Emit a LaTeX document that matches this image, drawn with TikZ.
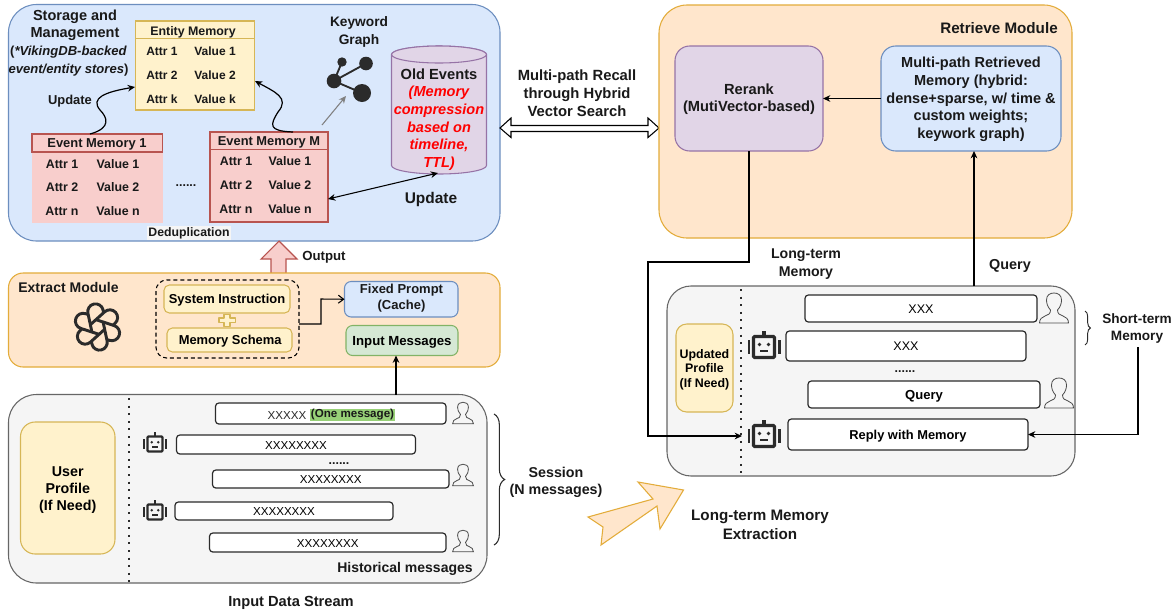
\documentclass[tikz,border=0pt]{standalone}
\usepackage{fontspec}
\setmainfont{Liberation Sans}
\usetikzlibrary{arrows.meta,decorations.pathreplacing,calc}
\definecolor{blueF}{HTML}{DAE8FC}\definecolor{blueS}{HTML}{6C8EBF}
\definecolor{orgF}{HTML}{FFE6CC}\definecolor{orgS}{HTML}{E3AC3A}
\definecolor{yelF}{HTML}{FFF2CC}\definecolor{yelS}{HTML}{D6B656}
\definecolor{redF}{HTML}{F8CECC}\definecolor{redS}{HTML}{B85450}
\definecolor{purF}{HTML}{E1D5E7}\definecolor{purS}{HTML}{9673A6}
\definecolor{grnF}{HTML}{D5E8D4}\definecolor{grnS}{HTML}{82B366}
\definecolor{gryF}{HTML}{F5F5F5}\definecolor{gryS}{HTML}{666666}
\definecolor{hiG}{HTML}{97D077}
\definecolor{ink}{HTML}{2B2B2B}
\newcommand{\bx}[7]{%
 \pgfmathsetmacro\wid{(#4-(#2))*0.75}\pgfmathsetmacro\hei{(#5-(#3))*0.75}%
 \node[#6,minimum width=\wid pt,minimum height=\hei pt,inner sep=0pt,outer sep=0pt,align=center] (#1) at ({((#2)+(#4))/2},{((#3)+(#5))/2}) {\raisebox{-1.3pt}[\height][\depth]{\begin{tabular}{@{}c@{}}#7\end{tabular}}};}
\newcommand{\robotIcon}[3]{\begin{scope}[shift={(#1,#2)},scale=#3]
 \draw[ink,line width=#3*2.4pt,rounded corners=0.8pt] (-10.5,-10.5) rectangle (10.5,10.5);
 \fill[ink] (-1.6,-16.5) rectangle (1.6,-11);
 \fill[ink] (-16.5,-7) rectangle (-14,7);
 \fill[ink] (14,-7) rectangle (16.5,7);
 \fill[ink] (-4.5,-2.5) circle (1.9);
 \fill[ink] (4.5,-2.5) circle (1.9);
 \fill[ink] (-4,3) rectangle (4,5.2);
\end{scope}}
\newcommand{\personIcon}[3]{\begin{scope}[shift={(#1,#2)},scale=#3]
 \draw[ink!85,line width=0.6pt] (-3.5,2) .. controls (-6.5,-1) and (-7.5,-5) .. (-7.5,-8) .. controls (-7.5,-13) and (-4,-15) .. (0,-15) .. controls (4,-15) and (7.5,-13) .. (7.5,-8) .. controls (7.5,-5) and (6.5,-1) .. (3.5,2) .. controls (3.5,6) and (6,7) .. (9,8) .. controls (12,9) and (14.5,11) .. (14.5,15) -- (-14.5,15) .. controls (-14.5,11) and (-12,9) .. (-9,8) .. controls (-6,7) and (-3.5,6) .. (-3.5,2) -- cycle;
\end{scope}}
\newcommand{\fsz}[2]{\fontsize{#1}{#2}\selectfont\bfseries}
\tikzset{
 x=0.75pt,y=-0.75pt,
 boxline/.style={line width=0.8pt},
 lab/.style={font=\fsz{9.6}{13},align=center,inner sep=0pt,text=black!90},
 plain/.style={font=\fontsize{9.4}{13}\selectfont,align=center,inner sep=0pt,text=ink},
 rowlab/.style={font=\fsz{9.3}{12},inner sep=0pt,text=black!90},
 module/.style={boxline,draw=orgS,fill=orgF},
 msg/.style={draw=ink,fill=white,line width=0.9pt,rounded corners=2.5pt},
 conn/.style={line width=1.2pt,-{Stealth[length=5.5pt,width=5pt]}},
 dbl/.style={line width=0.8pt,{Stealth[length=5.5pt,width=5pt]}-{Stealth[length=5.5pt,width=5pt]}},
 dotline/.style={line width=1.5pt,dash pattern=on 1.5pt off 4.2pt,ink},
 yel/.style={boxline,draw=yelS,fill=yelF},
}
\begin{document}
\begin{tikzpicture}
\useasboundingbox (0,0) rectangle (1176,611);
\fill[white] (0,0) rectangle (1176,611);
% Storage
\bx{storage}{8.5}{4.5}{500}{241}{boxline,draw=blueS,fill=blueF,rounded corners=21pt}{}
\node[lab,font=\fsz{10.9}{13}] (stT) at (75,25.5) {Storage and\\Management};
\node[lab,font=\fsz{9.8}{14}] (stS) at (68.5,61) {(\textit{*VikingDB-backed}\\\textit{event/entity stores})};
% Entity memory
\bx{ent}{135.5}{21}{254.5}{110}{yel}{}
\bx{entH}{135.5}{21}{254.5}{38.5}{yel}{}
\node[rowlab] (entT) at (193,32.5) {Entity Memory};
\foreach \i/\a/\v/\y in {1/Attr 1/Value 1/51,2/Attr 2/Value 2/75,3/Attr k/Value k/99}{
 \node[rowlab,font=\fsz{9}{12}] (entA\i) at (162,\y) {\a};
 \node[rowlab,font=\fsz{9}{12}] (entV\i) at (215,\y) {\v};}
% Event 1
\bx{ev}{32}{134}{162.5}{223}{boxline,fill=redF}{}
\bx{evH}{32}{134}{162.5}{152}{boxline,draw=redS,fill=redF}{}
\node[rowlab,font=\fsz{9.7}{12}] (evT) at (97,144.5) {Event Memory 1};
\foreach \i/\a/\v/\y in {1/Attr 1/Value 1/164,2/Attr 2/Value 2/187,3/Attr n/Value n/211}{
 \node[rowlab] (evA\i) at (62,\y) {\a};
 \node[rowlab] (evV\i) at (118,\y) {\v};}
% Event M
\bx{evm}{210}{132}{328}{222}{boxline,draw=redS,fill=redF}{}
\bx{evmH}{210}{132}{328}{149.5}{boxline,draw=redS,fill=redF}{}
\node[rowlab,font=\fsz{9.65}{12}] (evmT) at (269,142) {Event Memory M};
\foreach \i/\a/\v/\y in {1/Attr 1/Value 1/161,2/Attr 2/Value 2/185,3/Attr n/Value n/209}{
 \node[rowlab] (evmA\i) at (236,\y) {\a};
 \node[rowlab] (evmV\i) at (290,\y) {\v};}
\node[rowlab] (edots) at (186,186) {......};
\node[rowlab,font=\fsz{9.2}{11},fill=gryF,inner sep=1pt] (dedup) at (189,233) {Deduplication};
% Keyword graph
\node[lab,font=\fsz{10.3}{13}] (kw) at (359,32) {Keyword\\Graph};
\begin{scope}[ink]
 \coordinate (g1) at (342,62);\coordinate (g2) at (366,63.5);\coordinate (g3) at (334,81);\coordinate (g4) at (362,93);
 \draw[line width=1.4pt] (g3)--(g1) (g3)--(g2) (g3)--(g4);
 \fill (g1) circle (4.7);\fill (g2) circle (6.8);\fill (g3) circle (7.3);\fill (g4) circle (9);
\end{scope}
\coordinate (gA) at (322,125);\coordinate (gB) at (346,96);
\draw[gray,line width=0.8pt,-{Stealth[length=5.5pt,width=5pt]}] (gA)--(gB);
% Cylinder
\bx{cyl}{391.5}{46}{486.5}{174}{}{}
\draw[boxline,draw=purS,fill=purF] (391.5,54.5) arc[x radius=47.5,y radius=8.5,start angle=180,end angle=360] -- (486.5,165.5) arc[x radius=47.5,y radius=8.5,start angle=0,end angle=180] -- cycle;
\draw[boxline,draw=purS,fill=purF] (439,54.5) ellipse [x radius=47.5,y radius=8.5];
\node[lab,font=\fsz{11}{13}] (oldT) at (439,74) {Old Events};
\node[lab,font=\fontsize{10.9}{13.3}\selectfont\bfseries\itshape,text=red] (oldS) at (439,128.5) {(Memory\\compression\\based on\\timeline,\\TTL)};
\node[lab,font=\fsz{11.6}{14}] (upd2) at (431,199.5) {Update};
\node[rowlab,font=\fsz{9.7}{12}] (upd1) at (70,101.5) {Update};
% curves
\coordinate (c1s) at (90,134);\coordinate (c1e) at (135,87);
\coordinate (c2s) at (293,132);\coordinate (c2e) at (255,81);
\draw[line width=0.9pt,-{Stealth[length=5.5pt,width=5pt]}] (c1s) .. controls (112,128) and (107,117) .. (100,110) .. controls (90,98) and (105,92) .. (c1e);
\draw[line width=0.9pt,-{Stealth[length=5.5pt,width=5pt]}] (c2s) .. controls (268,131) and (270,125) .. (278,112) .. controls (290,98) and (275,92) .. (c2e);
\coordinate (uA) at (328,199);\coordinate (uB) at (438,173);
\draw[dbl] (uA)--(uB);
% output arrow
\draw[boxline,draw=redS,fill=redF] (279,241)--(297,259)--(286,259)--(286,273.5)--(271,273.5)--(271,259)--(261,259)--cycle;
\node[rowlab,font=\fsz{9.9}{12}] (outp) at (324,257) {Output};
% Extract
\bx{ext}{8.5}{273}{500}{367}{module,rounded corners=11pt}{}
\node[lab,anchor=west,font=\fsz{10.5}{13}] (extT) at (18,287.5) {Extract Module};
% logo
\begin{scope}[shift={(97.5,327)},rotate=12]
\foreach \k in {0,60,...,300}{
 \begin{scope}[rotate=\k]
 \draw[ink,line width=2.2pt,line join=round] (-6.5,3.75) -- (-6.5,-15.5) arc[x radius=7.75,y radius=7.75,start angle=180,end angle=360] -- (9,-12.5);
 \end{scope}}
\end{scope}
% dashed
\bx{dash}{156}{280}{299}{358}{draw=black,line width=0.8pt,dash pattern=on 3pt off 2.2pt,rounded corners=8pt}{}
\bx{sys}{164}{285}{290}{313}{yel,rounded corners=4pt,font=\fsz{9.7}{12}}{System Instruction}
\bx{sch}{167}{328}{292}{352}{yel,rounded corners=4pt,font=\fsz{9.7}{12}}{\hspace*{1pt}Memory Schema}
\draw[yel,line join=round] (224,314.5)--(230,314.5)--(230,318)--(235.5,318)--(235.5,322.5)--(230,322.5)--(230,326.5)--(224,326.5)--(224,322.5)--(219,322.5)--(219,318)--(224,318)--cycle;
\bx{fix}{344.5}{281.5}{458}{317}{boxline,draw=blueS,fill=blueF,rounded corners=5pt}{}
\node[lab,font=\fsz{9.75}{12}] (fixT) at (401.5,298.5) {Fixed Prompt\\(Cache)};
\bx{inp}{346}{325.5}{458}{355.5}{boxline,draw=grnS,fill=grnF,rounded corners=5pt,font=\fsz{9.9}{12}}{Input Messages}
\coordinate (dashR) at (299,324);
\coordinate (fixL) at (321,299);
\draw[line width=0.8pt,-{Straight Barb[length=4pt,width=6pt]}] (dashR) -| (fixL) -- (fix.west);
% History
\bx{hist}{8.5}{394.5}{487}{583}{boxline,draw=gryS,fill=gryF,rounded corners=21pt}{}
\coordinate (histDot1) at (129,398);\coordinate (histDot2) at (129,583);
\draw[dotline] (histDot1)--(histDot2);
\bx{user}{20.5}{422}{115}{554}{yel,rounded corners=11pt,font=\fsz{10.7}{12.8}}{User\\Profile\\(If Need)}
\bx{m1}{215.5}{403}{446}{424}{msg}{}
\node[plain,font=\fontsize{8.7}{11}\selectfont] (m1t) at (287,415) {XXXXX};
\node[rowlab,font=\fsz{8.7}{11},fill=hiG,inner sep=0.6pt] (m1h) at (352.5,415) {(One message)};
\bx{m2}{176.5}{435}{415.5}{454}{msg,font=\fontsize{8.7}{11}\selectfont}{XXXXXXXX}
\node[rowlab] (hdots) at (339,463.5) {......};
\bx{m3}{212.5}{470}{449}{488}{msg,font=\fontsize{8.7}{11}\selectfont}{XXXXXXXX}
\bx{m4}{175}{502}{393}{520}{msg,font=\fontsize{8.7}{11}\selectfont}{XXXXXXXX}
\bx{m5}{209.5}{533}{446}{552}{msg,font=\fontsize{8.7}{11}\selectfont}{XXXXXXXX}
\personIcon{463}{413}{0.72}\personIcon{463}{475}{0.72}\personIcon{463}{541}{0.72}
\robotIcon{155}{444}{0.72}\robotIcon{155}{512}{0.72}
\node[lab,font=\fsz{10.5}{13}] (histT) at (405,568.5) {Historical messages};
\node[lab,font=\fsz{11}{13}] (inT) at (291,603) {Input Data Stream};
\coordinate (b1) at (494,414);\coordinate (b2) at (494,545);
\draw[ink,line width=0.8pt,decorate,decoration={brace,amplitude=8pt}] (b1)--(b2);
\node[lab,font=\fsz{10.7}{13}] (sess) at (556,482) {Session\\(N messages)};
\coordinate (inX) at (396,394.5);
\draw[conn] (inX) -- (inX |- inp.south);
% Big orange arrow
\draw[boxline,draw=orgS,fill=orgF,line join=miter] (683.5,490)--(638,482)--(653,499)--(588,517)--(603,527)--(601,545)--(657,506)--(660,529)--cycle;
\node[lab,font=\fsz{11.4}{14.2}] (lte) at (760,524.5) {Long-term Memory\\Extraction};
% middle
\node[lab,font=\fsz{11.1}{13.5}] (mp) at (577,93) {Multi-path Recall\\through Hybrid\\Vector Search};
\draw[line width=0.8pt,fill=white] (500,128)--(511,118)--(511,125.5)--(648,125.5)--(648,118)--(659,128)--(648,137.5)--(648,131.5)--(511,131.5)--(511,137.5)--cycle;
% Retrieve
\bx{ret}{659}{5}{1072}{238}{module,rounded corners=21pt}{}
\node[lab,font=\fsz{11.4}{13}] (retT) at (999,28.5) {Retrieve Module};
\bx{rr}{675}{46}{823}{151}{boxline,draw=purS,fill=purF,rounded corners=11pt}{}
\node[lab,font=\fsz{11}{13}] (rrT) at (749,99.5) {Rerank\\(MutiVector-based)};
\bx{mpr}{881}{46}{1061}{151}{boxline,draw=blueS,fill=blueF,rounded corners=11pt}{}
\node[lab,font=\fsz{10.9}{13.3}] (mprT) at (971,99.5) {Multi-path Retrieved\\Memory (hybrid:\\dense+sparse, w/ time \&\\custom weights;\\keywork graph)};
\draw[conn] (mpr.west) -- (rr.east);
% Chat
\bx{chat}{667}{286}{1075}{476}{boxline,draw=gryS,fill=gryF,rounded corners=18pt}{}
\coordinate (cDot1) at (741,289);\coordinate (cDot2) at (741,476);
\draw[dotline] (cDot1)--(cDot2);
\bx{upd}{676}{324}{733}{412}{yel,rounded corners=8pt,font=\fsz{9.3}{11}}{Updated\\Profile\\(If Need)}
\bx{c1}{805}{295}{1037}{322}{msg,font=\fontsize{9.4}{12}\selectfont}{XXX}
\bx{c2}{786}{331}{1026}{361}{msg,font=\fontsize{9.4}{12}\selectfont}{XXX}
\node[rowlab] (cdots) at (905,372) {......};
\bx{c3}{808}{381}{1040}{408}{msg,font=\fsz{9.8}{12}}{Query}
\bx{c4}{788}{419}{1028}{450}{msg,font=\fsz{9.65}{12}}{Reply with Memory}
\personIcon{1054}{308}{1}\personIcon{1059}{393}{1}
\robotIcon{764}{347}{1}\robotIcon{764}{436}{1}
\coordinate (qUp) at (974,286);
\draw[conn] (qUp) -- (qUp |- mpr.south);
\coordinate (ltA) at (648,262);\coordinate (ltB) at (742,436);
\draw[conn] (rr.south) |- (ltA) |- (ltB);
\node[lab,font=\fsz{10.6}{13}] (ltm) at (806,264) {Long-term\\Memory};
\node[lab,font=\fsz{10.8}{13}] (qry) at (1010,265.5) {Query};
\coordinate (sb1) at (1085,311);\coordinate (sb2) at (1085,345);
\draw[ink,line width=0.7pt,decorate,decoration={brace,amplitude=4pt}] (sb1)--(sb2);
\node[lab,font=\fsz{10.2}{12.8}] (stm) at (1137,328.5) {Short-term\\Memory};
\coordinate (sA) at (1138,347);
\draw[conn] (sA) |- (c4.east);
\end{tikzpicture}
\end{document}
